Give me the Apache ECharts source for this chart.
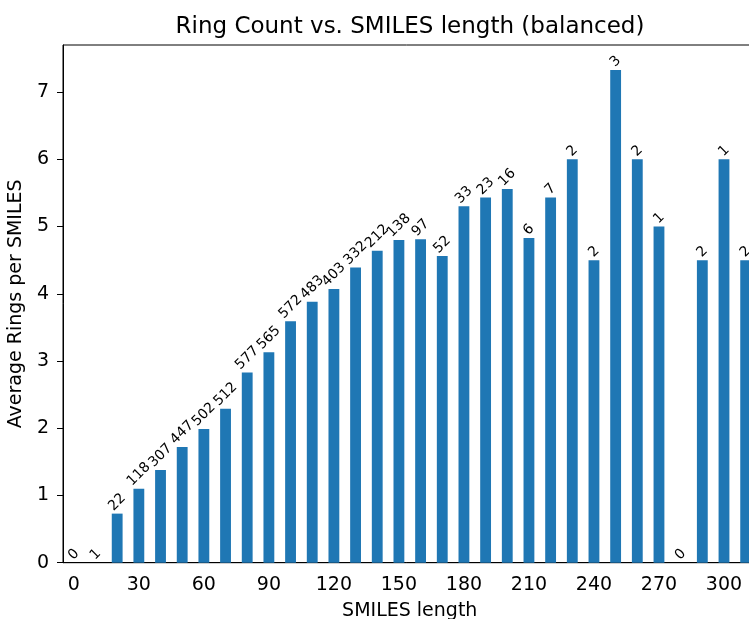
<!DOCTYPE html>
<html>
<head>
<meta charset="utf-8">
<script src="https://cdn.jsdelivr.net/npm/echarts@6/dist/echarts.min.js"></script>
<style>
  html, body { margin: 0; padding: 0; background: #fff; }
  #chart { width: 749px; height: 619px; }
</style>
</head>
<body>
<div id="chart"></div>
<script>
// SMILES length bins (step 10)
var lengths = [0, 10, 20, 30, 40, 50, 60, 70, 80, 90, 100, 110, 120, 130, 140, 150,
  160, 170, 180, 190, 200, 210, 220, 230, 240, 250, 260, 270, 280, 290, 300, 310];
// average rings per SMILES in each bin
var avgRings = [0, 0, 0.73, 1.10, 1.38, 1.72, 1.99, 2.29, 2.83, 3.13, 3.59, 3.88, 4.07, 4.39, 4.64, 4.80,
  4.81, 4.56, 5.30, 5.43, 5.56, 4.83, 5.43, 6.0, 4.5, 7.33, 6.0, 5.0, 0, 4.5, 6.0, 4.5];
// number of molecules in each bin (bar labels)
var counts = [0, 1, 22, 118, 307, 447, 502, 512, 577, 565, 572, 483, 403, 332, 212, 138,
  97, 52, 33, 23, 16, 6, 7, 2, 2, 3, 2, 1, 0, 2, 1, 2];
var yTicks = [0, 1, 2, 3, 4, 5, 6, 7];

var FONT = "DejaVu Sans";
var LABEL_SIZE = 14;

// rotated labels sit centred above the bar, like matplotlib ha=center va=bottom
function labelOffset(txt) {
  var L = txt.length * 0.62 * LABEL_SIZE;
  var H = 0.75 * LABEL_SIZE;
  var t = (L + H) / (2 * Math.SQRT2) + 1.5;
  return [t / Math.SQRT2, -t / Math.SQRT2];
}

var barData = avgRings.map(function (v, i) {
  var txt = String(counts[i]);
  return { value: v, label: { offset: labelOffset(txt) } };
});

var chart = echarts.init(document.getElementById("chart"));
chart.setOption({
  animation: false,
  textStyle: { fontFamily: FONT },
  title: {
    text: "Ring Count vs. SMILES length (balanced)",
    left: 405,
    top: 11,
    textAlign: "center",
    textStyle: { fontSize: 23, fontWeight: "normal", color: "#000", fontFamily: FONT }
  },
  grid: {
    left: 63, right: -7.5, top: 45, bottom: 56.3,
    outerBoundsMode: "none",
    containLabel: false,
    show: true, borderColor: "#000", borderWidth: 1
  },
  xAxis: {
    type: "category",
    data: lengths.map(String),
    name: "SMILES length",
    nameLocation: "middle",
    nameGap: 39,
    nameTextStyle: { fontSize: 19, color: "#000", fontFamily: FONT },
    axisLine: { lineStyle: { color: "#000", width: 1 } },
    axisTick: { interval: 2, alignWithLabel: true, length: 6, lineStyle: { color: "#000", width: 1 } },
    axisLabel: { interval: 2, margin: 13, fontSize: 19, color: "#000", fontFamily: FONT },
    splitLine: { show: false }
  },
  yAxis: {
    type: "value",
    min: 0,
    max: 7.7,
    name: "Average Rings per SMILES",
    nameLocation: "middle",
    nameGap: 27,
    nameTextStyle: { fontSize: 19, color: "#000", fontFamily: FONT },
    axisLine: { show: true, lineStyle: { color: "#000", width: 1 } },
    axisTick: { show: true, customValues: yTicks, length: 6, lineStyle: { color: "#000", width: 1 } },
    axisLabel: { customValues: yTicks, margin: 14, fontSize: 19, color: "#000", fontFamily: FONT },
    splitLine: { show: false }
  },
  series: [{
    type: "bar",
    data: barData,
    barWidth: "50%",
    itemStyle: { color: "#1f77b4" },
    label: {
      show: true,
      position: "top",
      distance: 0,
      rotate: 45,
      align: "center",
      verticalAlign: "middle",
      fontSize: LABEL_SIZE,
      color: "#000",
      fontFamily: FONT,
      formatter: function (p) { return String(counts[p.dataIndex]); }
    }
  }]
});
</script>
</body>
</html>
